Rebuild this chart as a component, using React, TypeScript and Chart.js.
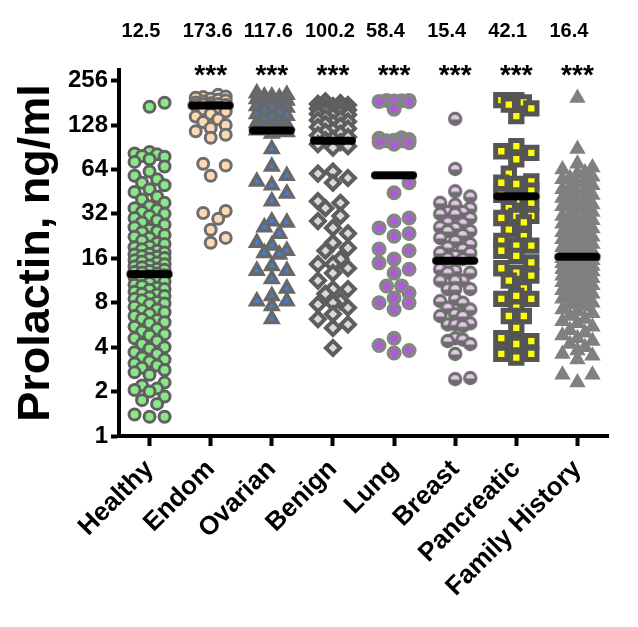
import React, { useEffect, useRef } from "react";
import { Chart, registerables } from "chart.js";

Chart.register(...registerables);

const categories = ["Healthy", "Endom", "Ovarian", "Benign", "Lung", "Breast", "Pancreatic", "Family History"];
const medianValues = [12.5, 173.6, 117.6, 100.2, 58.4, 15.4, 42.1, 16.4];
const medianLabels = ["12.5", "173.6", "117.6", "100.2", "58.4", "15.4", "42.1", "16.4"];
const significance = ["", "***", "***", "***", "***", "***", "***", "***"];
const yTickValues = [1, 2, 4, 8, 16, 32, 64, 128, 256];

const healthy = [181, 170, 84, 82, 81, 79, 78, 75, 72, 67, 62, 58, 55, 52, 50, 47, 45, 42, 40, 38, 36, 35, 34, 33, 32, 31, 30, 29, 28, 27, 26, 25, 24.3, 24, 23, 22.4, 22, 21, 20.3, 20, 19.2, 19, 18.4, 18, 17.5, 17.2, 17, 16.6, 16.4, 16.1, 15.9, 15.5, 15.2, 15, 14.6, 14.3, 14.1, 13.9, 13.6, 13.4, 13.1, 12.9, 12.8, 12.6, 12.3, 12.1, 11.9, 11.6, 11.4, 11.1, 10.9, 10.6, 10.4, 10.1, 9.9, 9.8, 9.5, 9.2, 9.1, 8.9, 8.7, 8.5, 8.3, 8.1, 7.9, 7.8, 7.5, 7.2, 7.1, 6.9, 6.7, 6.5, 6.2, 6.1, 5.9, 5.8, 5.5, 5.3, 5.1, 4.9, 4.8, 4.6, 4.4, 4.2, 4, 3.9, 3.7, 3.6, 3.4, 3.3, 3.2, 3.1, 3, 2.9, 2.8, 2.7, 2.6, 2.3, 2.2, 2.1, 2.05, 2.0, 1.85, 1.75, 1.65, 1.4, 1.35, 1.35];
const endom = [205, 200, 198, 196, 193, 190, 188, 185, 182, 180, 178, 176, 175, 174, 172, 168, 164, 158, 152, 146, 140, 134, 128, 122, 116, 110, 105, 70, 68, 58, 33.5, 32.4, 29.6, 25, 22, 20.4];
const ovarian = [210, 205, 200, 200, 196, 192, 188, 185, 180, 176, 172, 168, 165, 160, 156, 152, 148, 144, 140, 136, 132, 128, 125, 122, 120, 118, 115, 112, 88, 67, 58, 53, 50, 44, 39, 28.5, 28, 26, 23.5, 20.4, 19.5, 18, 17.4, 17, 14.2, 13.2, 13.2, 11.6, 10, 8.9, 8.2, 8.2, 7.6, 6.2];
const benign = [185, 180, 178, 175, 172, 170, 168, 165, 162, 160, 158, 155, 152, 150, 147, 144, 141, 138, 135, 132, 130, 127, 124, 121, 118, 115, 112, 109, 106, 103, 101, 98, 95, 92, 90, 62, 60, 56, 52, 39, 38, 35, 31, 28.6, 25.7, 23.6, 20.4, 18.8, 18, 15.8, 14.6, 14.6, 13.7, 12.7, 11.3, 9.9, 9.9, 9.2, 8.2, 8, 7.8, 7.4, 6.7, 6.2, 5.7, 5.4, 3.95];
const lung = [188, 188, 187, 186, 185, 184, 164, 105, 104, 102, 101, 100, 100, 98, 97, 95, 52, 44.5, 30, 28.6, 25.7, 23.6, 22.6, 18.5, 18, 15.8, 14.9, 13.5, 12.7, 10.4, 10.4, 9.3, 8.6, 8, 8, 7.2, 4.6, 4.1, 3.8, 3.65];
const breast = [141, 64.5, 45.5, 42, 38, 37, 35, 33, 33, 32, 32, 30, 28, 27.6, 26, 25.7, 24.5, 24.5, 23, 22, 21, 20, 19, 18.5, 17.4, 17.4, 16.6, 16, 15.8, 13.5, 13.2, 12.8, 12.8, 11.3, 11.3, 11.3, 9.9, 9.9, 9.9, 8.5, 8.2, 8, 7.4, 7.2, 6.7, 6.5, 6.5, 5.8, 5.7, 5.7, 5.55, 4.6, 4.5, 4.4, 4.2, 3.6, 2.47, 2.43];
const pancreatic = [189, 189, 182, 176, 166, 147, 92, 85, 83, 75, 60, 53, 52, 51, 46, 43, 40, 38, 35, 32, 31, 31, 30, 28, 25, 22.6, 21, 19.5, 19.5, 18, 16.6, 15, 13.7, 12.8, 12.2, 11.3, 10, 8.9, 8.5, 8.5, 7.4, 6.5, 6.5, 5.4, 4.6, 4.4, 4.2, 3.6, 3.6, 3.4];
const familyHistory = [195, 88, 70, 66, 64, 61, 60, 57, 56, 55, 53, 52, 50, 49, 47, 46, 45, 43, 42, 41, 40, 39, 37, 37, 36, 35, 34, 33, 32, 31, 30, 29.5, 29, 28, 27.4, 27, 26, 25.5, 25, 24, 23.5, 23, 22.4, 22, 21.5, 21, 20.4, 20, 19.5, 19, 18.6, 18, 17.8, 17.5, 17.1, 17, 16.8, 16.6, 16.5, 16.2, 16, 15.8, 15.5, 15.2, 15, 14.8, 14.5, 14.2, 14, 13.8, 13.5, 13.2, 13, 12.7, 12.5, 12.2, 12, 11.7, 11.5, 11.2, 11, 10.7, 10.5, 10.2, 10, 9.7, 9.5, 9.2, 9, 8.7, 8.5, 8.2, 8, 7.8, 7.5, 7.2, 7, 6.8, 6.5, 6.2, 6, 5.8, 5.5, 5.2, 5, 4.8, 4.6, 4.4, 4.2, 4, 3.8, 3.6, 3.5, 3.3, 2.6, 2.6, 2.3];

const groups = [healthy, endom, ovarian, benign, lung, breast, pancreatic, familyHistory];

const FONT = '"Liberation Sans", Arial, Helvetica, sans-serif';
const PX_PER_CAT = 61.1;
const PX_PER_OCTAVE = 44.4;

// deterministic beeswarm layout: horizontal offsets so markers do not overlap
function swarmOffsets(values: number[], diameter: number, maxHalf: number, step: number): number[] {
  const order = values.map((_, i) => i).sort((a, b) => values[a] - values[b]);
  const placed: { x: number; y: number }[] = [];
  const offsets = new Array(values.length).fill(0);
  const cands: number[] = [0];
  for (let k = step; k <= maxHalf + 1e-6; k += step) { cands.push(k, -k); }
  for (const i of order) {
    const y = Math.log2(values[i]) * PX_PER_OCTAVE;
    let best = 0;
    let bestScore = -Infinity;
    for (const c of cands) {
      let minD = Infinity;
      for (const p of placed) {
        const d = Math.hypot(p.x - c, p.y - y);
        if (d < minD) minD = d;
      }
      if (minD >= diameter) { best = c; bestScore = Infinity; break; }
      if (minD > bestScore + 0.5) { bestScore = minD; best = c; }
    }
    placed.push({ x: best, y });
    offsets[i] = best / PX_PER_CAT;
  }
  return offsets;
}

function makeBreastMarker(): HTMLCanvasElement {
  const c = document.createElement("canvas");
  c.width = 16; c.height = 16;
  const g = c.getContext("2d")!;
  g.fillStyle = "#6e6e6e";
  g.beginPath(); g.arc(8, 8, 7.2, 0, Math.PI * 2); g.fill();
  g.fillStyle = "#e6c6ea";
  g.beginPath(); g.arc(8, 8.4, 4.4, Math.PI, Math.PI * 2); g.closePath(); g.fill();
  return c;
}

function makeMedianMarker(): HTMLCanvasElement {
  const c = document.createElement("canvas");
  c.width = 48; c.height = 10;
  const g = c.getContext("2d")!;
  g.strokeStyle = "#000";
  g.lineWidth = 8;
  g.lineCap = "round";
  g.beginPath(); g.moveTo(5, 5); g.lineTo(43, 5); g.stroke();
  return c;
}

const topLabelsPlugin = {
  id: "topLabels",
  afterDraw(chart: any) {
    const { ctx } = chart;
    const xs = chart.scales.x;
    ctx.save();
    ctx.fillStyle = "#000";
    ctx.textBaseline = "alphabetic";
    categories.forEach((_, i) => {
      const x = xs.getPixelForValue(i);
      ctx.font = `bold 20px ${FONT}`;
      ctx.textAlign = "left";
      ctx.fillText(medianLabels[i], x - 28, 37);
      if (significance[i]) {
        ctx.font = `bold 28px ${FONT}`;
        ctx.textAlign = "center";
        ctx.fillText(significance[i], x, 84);
      }
    });
    ctx.restore();
  },
};

export default function App() {
  const ref = useRef<HTMLCanvasElement | null>(null);

  useEffect(() => {
    document.body.style.margin = "0";
    const canvas = ref.current;
    if (!canvas) return;

    const styles: any[] = [
      { pointStyle: "circle", radius: 5.5, bg: "#88e888", border: "#606060", bw: 3 },
      { pointStyle: "circle", radius: 5.5, bg: "#fdd9b3", border: "#6e6e6e", bw: 3 },
      { pointStyle: "triangle", radius: 7, bg: "#3f80d8", border: "#686868", bw: 3.5 },
      { pointStyle: "rectRot", radius: 7, bg: "#d9d9d9", border: "#5e5e5e", bw: 4 },
      { pointStyle: "circle", radius: 5.5, bg: "#b455e8", border: "#858585", bw: 4 },
      { pointStyle: makeBreastMarker(), radius: 7, bg: "#e6c6ea", border: "#6e6e6e", bw: 0 },
      { pointStyle: "rect", radius: 8, bg: "#ffff00", border: "#555555", bw: 5 },
      { pointStyle: "triangle", radius: 7.5, bg: "#808080", border: "#808080", bw: 2 },
    ];

    const datasets: any[] = [
      {
        label: "Median",
        data: medianValues.map((m, i) => ({ x: i, y: m })),
        pointStyle: makeMedianMarker(),
        pointRadius: 22,
        pointBorderWidth: 0,
        order: 0,
      },
    ];
    groups.forEach((vals, gi) => {
      const offs = swarmOffsets(vals, 13, 15, 7.5);
      const s = styles[gi];
      datasets.push({
        label: categories[gi],
        data: vals.map((v, i) => ({ x: gi + offs[i], y: v })),
        pointStyle: s.pointStyle,
        pointRadius: s.radius,
        pointBackgroundColor: s.bg,
        pointBorderColor: s.border,
        pointBorderWidth: s.bw,
        order: 1,
      });
    });

    const chart = new Chart(canvas, {
      type: "scatter",
      data: { datasets },
      plugins: [topLabelsPlugin],
      options: {
        animation: false,
        responsive: false,
        devicePixelRatio: 1,
        layout: { padding: { top: 70, right: 30, left: 0, bottom: 0 }, autoPadding: false },
        plugins: { legend: { display: false }, tooltip: { enabled: false } },
        scales: {
          x: {
            type: "linear",
            min: -0.5,
            max: 7.5,
            afterBuildTicks: (scale: any) => {
              scale.ticks = categories.map((_, i) => ({ value: i }));
            },
            afterFit: (scale: any) => { scale.height = 191; },
            ticks: {
              autoSkip: false,
              minRotation: 45,
              maxRotation: 45,
              color: "#000",
              font: { family: FONT, size: 26, weight: "bold" },
              padding: 8,
              callback: (v: any) => categories[v as number] ?? "",
            },
            grid: { drawOnChartArea: false, drawTicks: true, tickLength: 10, tickWidth: 4, tickColor: "#000" },
            border: { display: true, width: 4, color: "#000" },
          },
          y: {
            type: "logarithmic",
            min: 1,
            max: 302,
            afterBuildTicks: (scale: any) => {
              scale.ticks = yTickValues.map((v) => ({ value: v }));
            },
            afterFit: (scale: any) => { scale.width = 119; },
            ticks: {
              color: "#000",
              font: { family: FONT, size: 24, weight: "bold" },
              padding: 3,
              callback: (v: any) => String(v),
            },
            grid: { drawOnChartArea: false, drawTicks: true, tickLength: 8, tickWidth: 4, tickColor: "#000" },
            border: { display: true, width: 4, color: "#000" },
            title: {
              display: true,
              text: "Prolactin, ng/ml",
              color: "#000",
              font: { family: FONT, size: 45, weight: "bold" },
              padding: { top: 10, bottom: 0 },
            },
          },
        },
      } as any,
    });
    return () => chart.destroy();
  }, []);

  return (
    <div style={{ width: 638, height: 627 }}>
      <canvas ref={ref} width={638} height={627} style={{ display: "block" }} />
    </div>
  );
}
